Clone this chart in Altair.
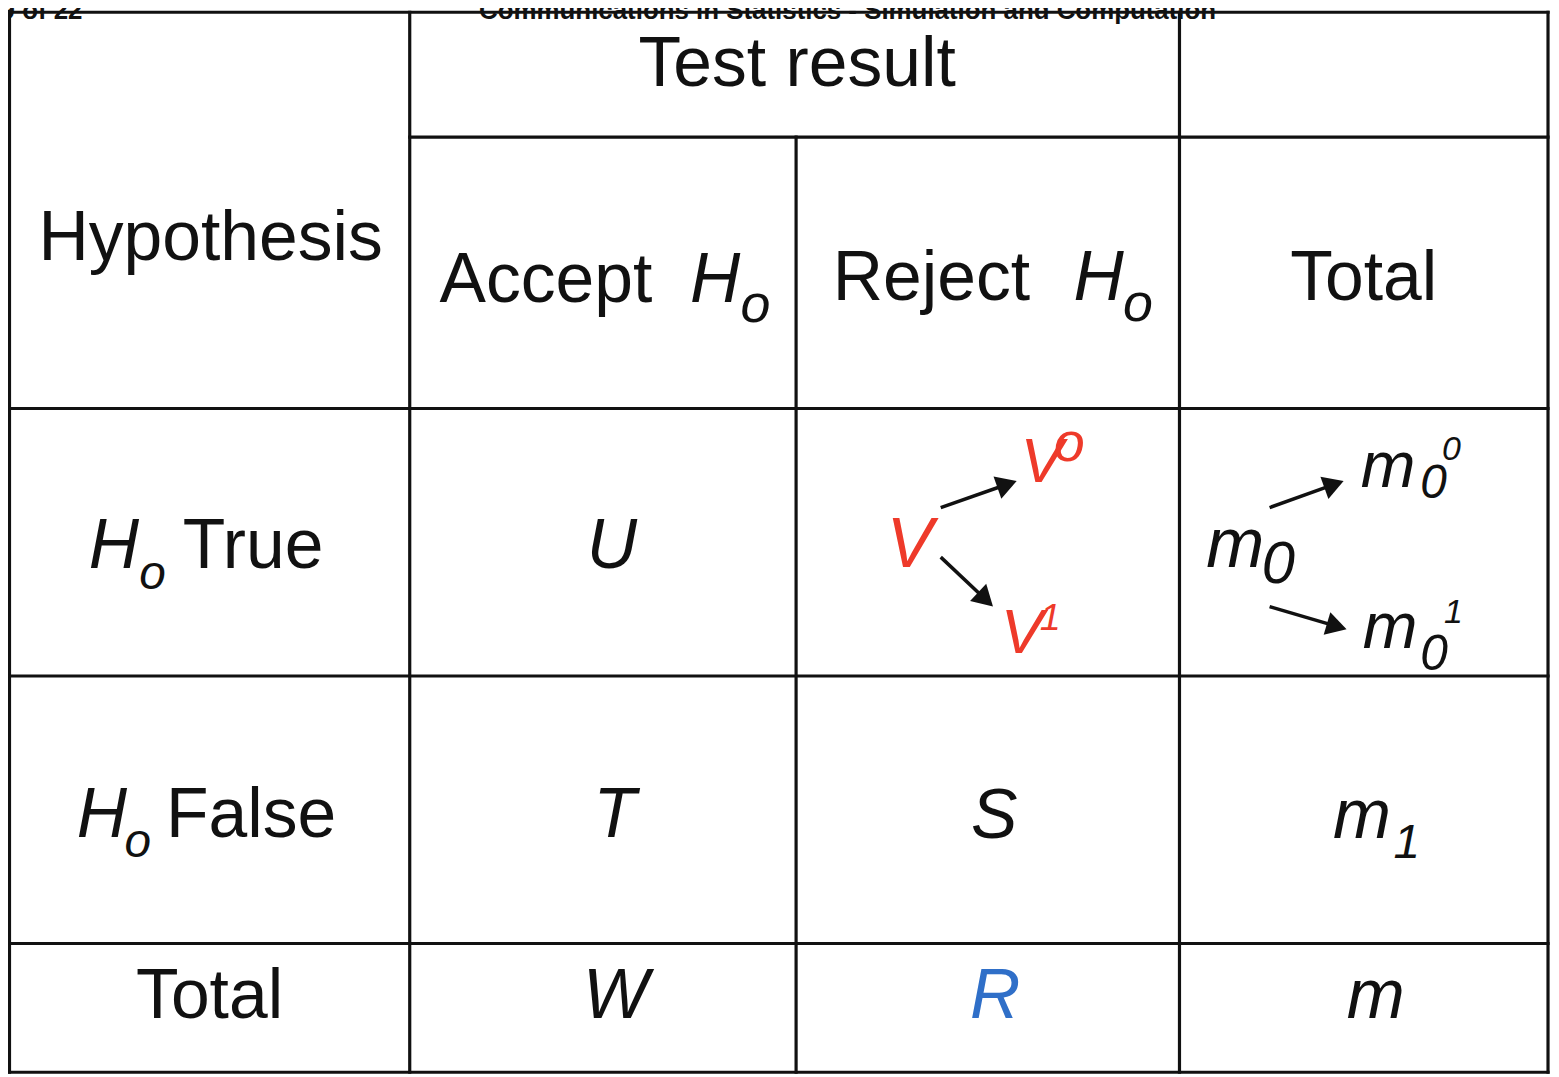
import math
import altair as alt
import pandas as pd

# ---------------- data (text content of the table) ----------------
header_note = "9 of 22"
journal = "Communications in Statistics - Simulation and Computation"
corner_label = "Hypothesis"
group_label = "Test result"
col_words = ["Accept", "Reject", "Total"]
col_symbol = ["H", "H", ""]
col_symbol_sub = ["o", "o", ""]
row_symbol = ["H", "H", ""]
row_symbol_sub = ["o", "o", ""]
row_words = ["True", "False", "Total"]
cell_main = [["U", "V", "m"], ["T", "S", "m"], ["W", "R", "m"]]
cell_sub = [["", "", "0"], ["", "", "1"], ["", "", ""]]
v_branch_main = ["V", "V"]
v_branch_sup = ["o", "1"]
m_branch_main = ["m", "m"]
m_branch_sub = ["0", "0"]
m_branch_sup = ["0", "1"]

# ---------------- layout (reference pixel frame) ----------------
COL_EDGES = [3, 407, 797, 1184, 1556]
ROW_EDGES = [5, 131, 405, 675, 945, 1075]
W_CHART, H_CHART = 1551, 1069
FONT = "Liberation Sans"
BLACK = "#111111"
RED = "#ee3a2a"
BLUE = "#2f6fc8"
LINE_W = 3.2
BIG = 70
TEXT_DY = -3

# grid segments
segs = []
L, R_ = COL_EDGES[0], COL_EDGES[-1]
T_, B_ = ROW_EDGES[0], ROW_EDGES[-1]
segs.append((L, T_, R_, T_))
segs.append((L, B_, R_, B_))
segs.append((L, T_, L, B_))
segs.append((R_, T_, R_, B_))
segs.append((COL_EDGES[1], ROW_EDGES[1], R_, ROW_EDGES[1]))
for yy in ROW_EDGES[2:-1]:
    segs.append((L, yy, R_, yy))
segs.append((COL_EDGES[1], T_, COL_EDGES[1], B_))
segs.append((COL_EDGES[2], ROW_EDGES[1], COL_EDGES[2], B_))
segs.append((COL_EDGES[3], T_, COL_EDGES[3], B_))
grid_df = pd.DataFrame(segs, columns=["x", "y", "x2", "y2"])

# text pieces
pieces = []


def add(t, x, y, size=BIG, italic=False, align="left", color=BLACK, bold=False):
    if t == "":
        return
    pieces.append(dict(t=t, x=x, y=y, size=size,
                       style="italic" if italic else "normal",
                       weight="bold" if bold else "normal",
                       align=align, color=color))


add(header_note, -6, 15, 26, bold=True)
add(journal, 849, 15, 26, align="center", bold=True)
add(group_label, 798, 82, align="center")
add(corner_label, 206, 258, align="center")

# column headers
add(col_words[0], 437, 300)
add(col_symbol[0], 690, 300, italic=True)
add(col_symbol_sub[0], 741, 321, 54, italic=True)
add(col_words[1], 834, 298)
add(col_symbol[1], 1077, 298, italic=True)
add(col_symbol_sub[1], 1127, 320, 54, italic=True)
add(col_words[2], 1370, 298, align="center")

# row headers
add(row_symbol[0], 83, 569, italic=True)
add(row_symbol_sub[0], 134, 590, 48, italic=True)
add(row_words[0], 178, 569)
add(row_symbol[1], 71, 841, italic=True)
add(row_symbol_sub[1], 119, 861, 48, italic=True)
add(row_words[1], 161, 841)
add(row_words[2], 205, 1023, align="center")

# body cells
add(cell_main[0][0], 611, 569, italic=True, align="center")
add(cell_main[0][1], 912, 568, italic=True, align="center", color=RED)
add(cell_main[0][2], 1211, 568, italic=True)
add(cell_sub[0][2], 1267, 584, 60, italic=True)
add(cell_main[1][0], 614, 841, italic=True, align="center")
add(cell_main[1][1], 997, 842, italic=True, align="center")
add(cell_main[1][2], 1339, 842, italic=True)
add(cell_sub[1][2], 1400, 862, 48, italic=True)
add(cell_main[2][0], 615, 1023, italic=True, align="center")
add(cell_main[2][1], 998, 1023, italic=True, align="center", color=BLUE)
add(cell_main[2][2], 1382, 1023, italic=True, align="center")

# branches of V
add(v_branch_main[0], 1045, 482, 64, italic=True, align="center", color=RED)
add(v_branch_sup[0], 1057, 461, 56, italic=True, color=RED)
add(v_branch_main[1], 1025, 655, 64, italic=True, align="center", color=RED)
add(v_branch_sup[1], 1043, 632, 38, italic=True, color=RED)

# branches of m0
add(m_branch_main[0], 1367, 487, 66, italic=True)
add(m_branch_sub[0], 1427, 498, 48, italic=True)
add(m_branch_sup[0], 1449, 460, 34, italic=True)
add(m_branch_main[1], 1369, 650, 66, italic=True)
add(m_branch_sub[1], 1427, 672, 50, italic=True)
add(m_branch_sup[1], 1451, 625, 34, italic=True)

text_df = pd.DataFrame(pieces)

# arrows
arrows = [(943, 505, 1020, 478), (943, 555, 996, 605),
          (1275, 505, 1350, 478), (1275, 605, 1353, 628)]
HEAD_SIZE = 560
r = math.sqrt(HEAD_SIZE) / 2
shaft_rows, head_rows = [], []
for x0, y0, x1, y1 in arrows:
    ang = math.atan2(y1 - y0, x1 - x0)
    ux, uy = math.cos(ang), math.sin(ang)
    shaft_rows.append(dict(x=x0, y=y0, x2=x1 - ux * r * 1.2, y2=y1 - uy * r * 1.2))
    head_rows.append(dict(x=x1 - ux * r * 0.9, y=y1 - uy * r * 0.9,
                          angle=(math.degrees(ang)) % 360))
shaft_df = pd.DataFrame(shaft_rows)
head_df = pd.DataFrame(head_rows)

xs = alt.Scale(domain=[COL_EDGES[0], COL_EDGES[-1]], range=[1.5, 1548])
ys = alt.Scale(domain=[ROW_EDGES[0], ROW_EDGES[-1]], range=[1.5, 1067])

background = alt.Chart(pd.DataFrame([dict(x=L, y=T_, x2=R_, y2=B_)])).mark_rect(
    fill="white").encode(
    x=alt.X("x:Q", scale=xs, axis=None), y=alt.Y("y:Q", scale=ys, axis=None),
    x2="x2:Q", y2="y2:Q")

grid = alt.Chart(grid_df).mark_rule(color=BLACK, strokeWidth=LINE_W, strokeCap="square").encode(
    x=alt.X("x:Q", scale=xs, axis=None), y=alt.Y("y:Q", scale=ys, axis=None),
    x2="x2:Q", y2="y2:Q")

shafts = alt.Chart(shaft_df).mark_rule(color=BLACK, strokeWidth=3.5).encode(
    x=alt.X("x:Q", scale=xs, axis=None), y=alt.Y("y:Q", scale=ys, axis=None),
    x2="x2:Q", y2="y2:Q")

heads = alt.Chart(head_df).mark_point(shape="triangle-right", filled=True, size=HEAD_SIZE,
                                      color=BLACK, opacity=1).encode(
    x=alt.X("x:Q", scale=xs, axis=None), y=alt.Y("y:Q", scale=ys, axis=None),
    angle=alt.Angle("angle:Q", scale=None))

text_layers = []
for (al, st, wt), sub in text_df.groupby(["align", "style", "weight"]):
    text_layers.append(
        alt.Chart(sub).mark_text(align=al, baseline="alphabetic", font=FONT,
                                 fontStyle=st, fontWeight=wt, dy=TEXT_DY).encode(
            x=alt.X("x:Q", scale=xs, axis=None), y=alt.Y("y:Q", scale=ys, axis=None),
            text="t:N", size=alt.Size("size:Q", scale=None, legend=None),
            color=alt.Color("color:N", scale=None, legend=None)))

chart = alt.layer(background, grid, shafts, heads, *text_layers).properties(
    width=W_CHART, height=H_CHART, padding=0, autosize="none",
    background="white").configure_view(stroke=None)

chart.save("out.html", embed_options={"renderer": "svg", "actions": False})
